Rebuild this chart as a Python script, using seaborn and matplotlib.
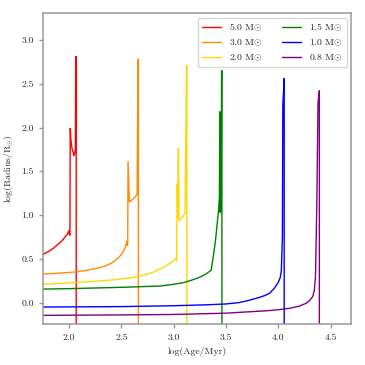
import pandas as pd
import seaborn as sns
import matplotlib.pyplot as plt

# tracks: log(Age/Myr) and log(Radius/Rsun)
# last point of each track drops below the axis (remnant)
age_50 = [1.70, 1.75, 1.80, 1.85, 1.90, 1.94, 1.97, 1.99, 2.00, 2.005, 2.010, 2.013, 2.02, 2.03, 2.04, 2.048, 2.055, 2.062, 2.065, 2.070, 2.070]
rad_50 = [0.52, 0.55, 0.58, 0.62, 0.67, 0.715, 0.76, 0.79, 0.82, 0.78, 0.77, 1.99, 1.85, 1.76, 1.72, 1.68, 1.70, 1.74, 2.81, 2.81, -1.0]

age_30 = [1.70, 1.75, 1.85, 1.95, 2.05, 2.15, 2.26, 2.35, 2.42, 2.47, 2.50, 2.52, 2.535, 2.545, 2.554, 2.558, 2.562, 2.565, 2.578, 2.60, 2.63, 2.652, 2.660, 2.664, 2.664]
rad_30 = [0.32, 0.327, 0.333, 0.34, 0.35, 0.365, 0.39, 0.42, 0.46, 0.51, 0.55, 0.58, 0.62, 0.66, 0.70, 0.65, 0.66, 1.61, 1.15, 1.17, 1.20, 1.24, 2.78, 2.78, -1.0]

age_20 = [1.70, 1.75, 2.00, 2.20, 2.42, 2.60, 2.70, 2.80, 2.87, 2.92, 2.96, 3.00, 3.026, 3.030, 3.035, 3.040, 3.046, 3.052, 3.08, 3.11, 3.124, 3.127, 3.127]
rad_20 = [0.20, 0.21, 0.225, 0.24, 0.26, 0.285, 0.31, 0.345, 0.385, 0.415, 0.445, 0.48, 0.51, 0.48, 1.36, 0.98, 1.76, 0.94, 0.97, 1.02, 2.71, 2.71, -1.0]

age_15 = [1.70, 1.75, 2.00, 2.50, 2.87, 3.00, 3.10, 3.18, 3.24, 3.30, 3.33, 3.36, 3.40, 3.43, 3.438, 3.442, 3.446, 3.450, 3.455, 3.459, 3.462, 3.462]
rad_15 = [0.15, 0.155, 0.16, 0.175, 0.19, 0.21, 0.23, 0.26, 0.285, 0.32, 0.345, 0.37, 0.70, 1.06, 1.20, 2.18, 1.03, 1.12, 1.05, 2.65, 2.65, -1.0]

age_10 = [1.70, 1.75, 2.50, 3.00, 3.30, 3.50, 3.62, 3.70, 3.76, 3.82, 3.88, 3.92, 3.96, 4.00, 4.02, 4.03, 4.04, 4.044, 4.057, 4.057]
rad_10 = [-0.05, -0.05, -0.045, -0.035, -0.025, -0.015, 0.0, 0.02, 0.04, 0.06, 0.085, 0.11, 0.16, 0.23, 0.29, 0.37, 0.75, 2.25, 2.56, -1.0]

age_08 = [1.70, 1.75, 2.50, 3.00, 3.50, 3.92, 4.04, 4.11, 4.20, 4.267, 4.30, 4.33, 4.345, 4.356, 4.369, 4.38, 4.393, 4.393]
rad_08 = [-0.145, -0.145, -0.14, -0.135, -0.12, -0.09, -0.075, -0.064, -0.04, -0.007, 0.025, 0.07, 0.14, 0.30, 1.14, 2.28, 2.42, -1.0]

masses = ['5.0', '3.0', '2.0', '1.5', '1.0', '0.8']
colors = ['red', 'darkorange', 'gold', 'green', 'blue', 'purple']
ages = [age_50, age_30, age_20, age_15, age_10, age_08]
radii = [rad_50, rad_30, rad_20, rad_15, rad_10, rad_08]

sns.set_style('ticks')
plt.rcParams['font.family'] = ['cmr10']
plt.rcParams['mathtext.fontset'] = 'cm'
plt.rcParams['axes.formatter.use_mathtext'] = True

fig, ax = plt.subplots(figsize=(3.65, 3.65), dpi=100)
fig.subplots_adjust(left=0.117, right=0.963, bottom=0.112, top=0.965)

for m, c, a, r in zip(masses, colors, ages, radii):
    df = pd.DataFrame({'age': a, 'radius': r})
    sns.lineplot(data=df, x='age', y='radius', sort=False, estimator=None,
                 color=c, lw=1.0, label=m + r' M$\odot$', ax=ax)

ax.set_xlim(1.75, 4.7)
ax.set_ylim(-0.245, 3.31)
ax.set_xticks([2.0, 2.5, 3.0, 3.5, 4.0, 4.5])
ax.set_yticks([0.0, 0.5, 1.0, 1.5, 2.0, 2.5, 3.0])
ax.set_xticklabels(['2.0', '2.5', '3.0', '3.5', '4.0', '4.5'])
ax.set_yticklabels(['0.0', '0.5', '1.0', '1.5', '2.0', '2.5', '3.0'])
ax.set_xlabel('log(Age/Myr)', size=7)
ax.set_ylabel(r'log(Radius/R$_{\odot}$)', size=7)
ax.tick_params(labelsize=7, length=3, width=1, color='#999999')
for s in ax.spines.values():
    s.set_color('#999999')
    s.set_linewidth(1.1)
ax.legend(ncol=2, loc='upper right', fontsize=7)

fig.savefig('out.png', dpi=100)
